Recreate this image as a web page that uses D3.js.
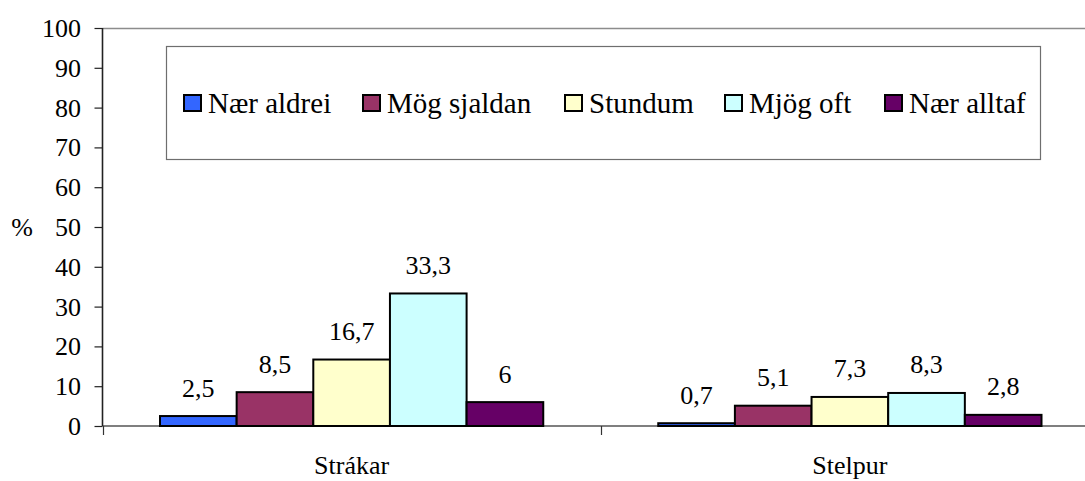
<!DOCTYPE html>
<meta charset="utf-8">
<html>
<body style="margin:0">
<script src="https://d3js.org/d3.v7.min.js"></script>
<script>
    // chart data
    const groups = ["Strákar", "Stelpur"];
    const series = ["Nær aldrei", "Mög sjaldan", "Stundum", "Mjög oft", "Nær alltaf"];
    const colors = ["#3366ff", "#993366", "#ffffcc", "#ccffff", "#660066"];
    const valuesStrakar = [2.5, 8.5, 16.7, 33.3, 6];
    const valuesStelpur = [0.7, 5.1, 7.3, 8.3, 2.8];
    const yTicks = [0, 10, 20, 30, 40, 50, 60, 70, 80, 90, 100];

    const width = 1085,
        height = 481;

    // plot area (right edge runs past the window, as in the source)
    const plotLeft = 102.5, plotRight = 1099, plotTop = 28, plotBottom = 426;

    const rows = [valuesStrakar, valuesStelpur].map((vals, gi) => {
        return series.map((s, si) => ({ group: groups[gi], series: s, value: vals[si], color: colors[si] }));
    });

    const svg = d3.select("body").append("svg")
        .attr("width", width)
        .attr("height", height);

    const x0 = d3.scaleBand()
        .domain(groups)
        .range([plotLeft, plotRight]);

    const x1 = d3.scaleBand()
        .domain(series)
        .range([57.5, x0.bandwidth() - 57.5]);

    const y = d3.scaleLinear()
        .domain([0, 100])
        .range([plotBottom, plotTop]);

    // helper: serif text node
    function addText(parent, x, yy, size, anchor, str) {
        return parent.append("text")
            .attr("x", x)
            .attr("y", yy)
            .attr("font-size", size)
            .attr("font-family", "Liberation Serif")
            .attr("text-anchor", anchor)
            .style("font-family", '"Liberation Serif"')
            .text(str);
    }

    // top border of the plot area
    svg.append("line")
        .attr("x1", plotLeft).attr("x2", width)
        .attr("y1", plotTop + 0.5).attr("y2", plotTop + 0.5)
        .attr("stroke", "#8c8c8c")
        .attr("stroke-width", 1.5);

    // x axis line + category ticks
    svg.append("line")
        .attr("x1", plotLeft).attr("x2", width)
        .attr("y1", plotBottom).attr("y2", plotBottom)
        .attr("stroke", "#555")
        .attr("stroke-width", 1.3);

    groups.forEach(g => {
        const gx = Math.round(x0(g)) + 0.5;
        svg.append("line")
            .attr("x1", gx).attr("x2", gx)
            .attr("y1", plotBottom).attr("y2", plotBottom + 9)
            .attr("stroke", "#333")
            .attr("stroke-width", 1.2);
        addText(svg, x0(g) + x0.bandwidth() / 2, 474, 26, "middle", g);
    });

    // y axis line, ticks and labels from the y scale
    svg.append("line")
        .attr("x1", plotLeft).attr("x2", plotLeft)
        .attr("y1", y(100)).attr("y2", y(0))
        .attr("stroke", "#222")
        .attr("stroke-width", 1.6);

    yTicks.forEach(t => {
        svg.append("line")
            .attr("x1", plotLeft - 8).attr("x2", plotLeft)
            .attr("y1", y(t) + 0.5).attr("y2", y(t) + 0.5)
            .attr("stroke", "#222")
            .attr("stroke-width", 1.2);
        addText(svg, 81, y(t) + 9, 26, "end", String(t));
    });

    addText(svg, 22, y(50) + 9, 26, "middle", "%");

    // bars
    rows.forEach((row, gi) => {
        const g = svg.append("g").attr("transform", `translate(${x0(groups[gi])},0)`);
        g.selectAll("rect")
            .data(row)
            .join("rect")
            .attr("x", d => x1(d.series))
            .attr("y", d => y(d.value))
            .attr("width", x1.bandwidth())
            .attr("height", d => plotBottom - y(d.value))
            .attr("fill", d => d.color)
            .attr("stroke", "#000")
            .attr("stroke-width", 2);
        row.forEach(d => {
            addText(g, x1(d.series) + x1.bandwidth() / 2, y(d.value) - 19.5, 26, "middle",
                String(d.value).replace(".", ","));
        });
    });

    // legend
    const legend = svg.append("g");
    legend.append("rect")
        .attr("x", 166.5).attr("y", 46.5)
        .attr("width", 874).attr("height", 113)
        .attr("fill", "#fff")
        .attr("stroke", "#6e6e6e")
        .attr("stroke-width", 1.2);

    const legendX = [184, 363, 565, 725, 885]; // left edges of the swatches as laid out in the source
    series.forEach((s, i) => {
        legend.append("rect")
            .attr("x", legendX[i]).attr("y", 95)
            .attr("width", 17).attr("height", 16)
            .attr("fill", colors[i])
            .attr("stroke", "#000")
            .attr("stroke-width", 2);
        addText(legend, legendX[i] + 24, 113, 29, "start", s);
    });
</script>
</body>
</html>
